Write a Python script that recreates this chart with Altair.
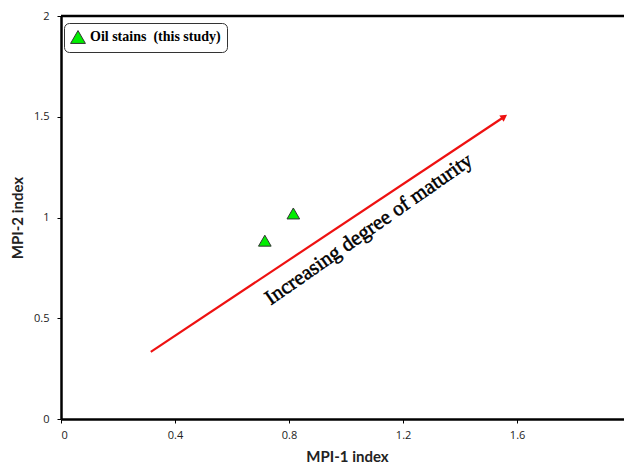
import altair as alt
import pandas as pd

# Data
series_name = "Oil stains \u00a0(this study)"
mpi1 = [0.715, 0.815]
mpi2 = [0.885, 1.02]

arrow_x = [0.315, 1.555]
arrow_y = [0.333, 1.500]

label_text = ["Increasing degree of maturity"]
label_x = [1.08]
label_y = [0.94]

x_ticks = [0, 0.4, 0.8, 1.2, 1.6]
y_ticks = [0, 0.5, 1, 1.5, 2]

pts = pd.DataFrame({"MPI1": mpi1, "MPI2": mpi2, "series": [series_name] * len(mpi1)})
arr = pd.DataFrame({"x": arrow_x, "y": arrow_y, "o": [0, 1]})
head = arr.iloc[[1]]
lab = pd.DataFrame({"x": label_x, "y": label_y, "t": label_text})

xs = alt.Scale(domain=[0, 1.975], nice=False, zero=False)
ys = alt.Scale(domain=[0, 2], nice=False, zero=False)

xaxis = alt.Axis(values=x_ticks, format="~g", title="MPI-1 index", grid=False, domainColor="black",
                 domainWidth=2.5, tickColor="black", tickSize=4, labelFont="Open Sans",
                 labelFontSize=11, labelColor="#222", labelPadding=6, titleFont="Lato",
                 titleFontSize=15, titleFontWeight="bold", titleColor="#222",
                 titlePadding=9, titleX=286)
yaxis = alt.Axis(values=y_ticks, format="~g", title="MPI-2 index", grid=False, domainColor="black",
                 domainWidth=2.5, tickColor="black", tickSize=4, labelFont="Open Sans",
                 labelFontSize=11, labelColor="#222", labelPadding=8, titleFont="Lato",
                 titleFontSize=15, titleFontWeight="bold", titleColor="#222",
                 titlePadding=8)

points = alt.Chart(pts).mark_point(filled=True, shape="triangle-up", size=160,
                                   stroke="#333", strokeWidth=1, opacity=1).encode(
    x=alt.X("MPI1:Q", scale=xs, axis=xaxis),
    y=alt.Y("MPI2:Q", scale=ys, axis=yaxis),
    color=alt.Color("series:N", scale=alt.Scale(domain=[series_name], range=["#00ee00"]),
                    legend=alt.Legend(title=None, orient="none", legendX=3, legendY=7,
                                      strokeColor="#333", cornerRadius=5,
                                      padding=6, fillColor="white",
                                      symbolType="triangle-up", symbolSize=220,
                                      symbolStrokeColor="#333", symbolStrokeWidth=1,
                                      symbolFillColor="#00ee00", symbolOpacity=1,
                                      labelFont="Liberation Serif", labelFontWeight="bold",
                                      labelFontSize=14, labelColor="black")),
)

top = alt.Chart(pd.DataFrame({"y": [2]})).mark_rule(color="black", strokeWidth=2.5).encode(
    y=alt.Y("y:Q", scale=ys)
)

line = alt.Chart(arr).mark_line(color="#ee1111", strokeWidth=2.2).encode(
    x=alt.X("x:Q", scale=xs), y=alt.Y("y:Q", scale=ys), order="o:Q"
)
arrowhead = alt.Chart(head).mark_point(shape="triangle-up", filled=True, color="#ee1111",
                                       size=60, angle=56, opacity=1).encode(
    x=alt.X("x:Q", scale=xs), y=alt.Y("y:Q", scale=ys)
)

text = alt.Chart(lab).mark_text(font="Liberation Serif", fontSize=21, fontWeight="normal",
                                angle=325, color="black", stroke="black", strokeWidth=0.5).encode(
    x=alt.X("x:Q", scale=xs), y=alt.Y("y:Q", scale=ys), text="t:N"
)

chart = alt.layer(top, line, arrowhead, points, text).properties(
    width=563, height=403,
    padding={"left": 61, "top": 16, "right": 0, "bottom": 46},
    autosize=alt.AutoSizeParams(type="none"),
    background="white",
).configure_view(stroke=None)

chart.save("out.html", embed_options={"renderer": "svg", "actions": False})
